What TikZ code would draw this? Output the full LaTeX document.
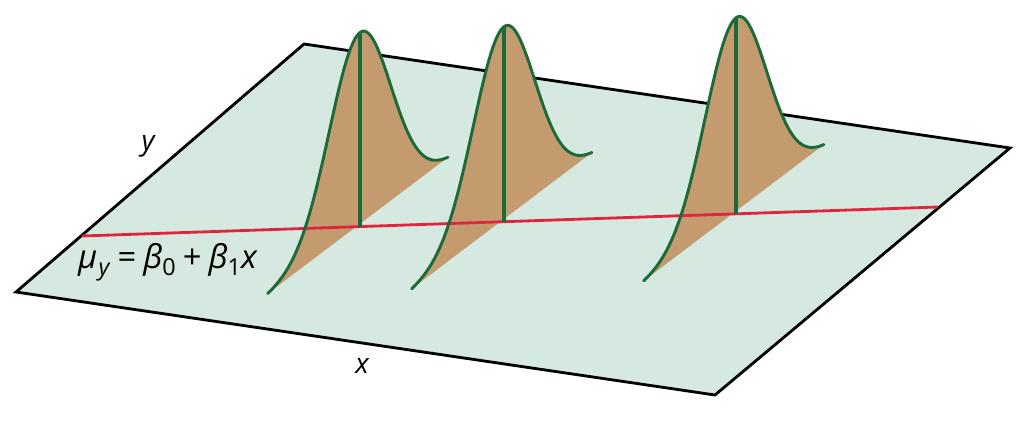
\documentclass[tikz,border=0pt]{standalone}
\usepackage{fontspec}
\setmainfont{Open Sans}
\definecolor{planefill}{HTML}{D6E9E0}
\definecolor{bellfill}{HTML}{C49B6E}
\definecolor{bellline}{HTML}{1C6A3A}
\definecolor{regline}{HTML}{E0253E}
\newcommand{\subtxt}[1]{\raisebox{-0.45ex}{\fontsize{20}{21}\selectfont\upshape #1}}
\begin{document}
\begin{tikzpicture}[x=0.03cm,y=-0.03cm,
  planestyle/.style={fill=planefill,draw=black,line width=2.4pt,line join=miter},
  bellarea/.style={fill=bellfill,draw=none},
  bellcurve/.style={draw=bellline,line width=2.5pt,line cap=round,line join=round},
  regstyle/.style={draw=regline,line width=2.4pt},
  lab/.style={font=\fontsize{24}{28}\selectfont\itshape,inner sep=0pt},
  eqlab/.style={font=\fontsize{28}{31}\selectfont\itshape,inner sep=0pt}]
\useasboundingbox (0,0) rectangle (1023,421);
% plane
\coordinate (TL) at (304,44);
\coordinate (TR) at (1010,148);
\coordinate (BR) at (715,395);
\coordinate (BL) at (16,292);
\draw[planestyle] (TL) -- (TR) -- (BR) -- (BL) -- cycle;
% regression line end points and bases
\coordinate (RL) at (82,236);
\coordinate (RR) at (938,207);
\foreach \bx/\by/\h/\n in {360/226.5/194/1, 504/221.7/195/2, 736/213.8/196/3}{
  \coordinate (base\n) at (\bx,\by);
  \coordinate (peak\n) at (\bx,\by-\h);
  \fill[bellarea] plot[domain=-1.05:1,samples=90,variable=\t]
     ({\bx+88*\t},{\by-66*\t-\h*exp(-\t*\t/0.245)}) -- cycle;
}
\draw[regstyle] (RL) -- (RR);
\foreach \bx/\by/\h/\n in {360/226.5/194/1, 504/221.7/195/2, 736/213.8/196/3}{
  \draw[bellcurve] plot[domain=-1.05:1,samples=90,variable=\t]
     ({\bx+88*\t},{\by-66*\t-\h*exp(-\t*\t/0.245)});
  \draw[bellcurve,line cap=butt,line width=2.8pt] (base\n) -- (peak\n);
}
% labels
\node[lab,anchor=base] (ylab) at (148,150) {y};
\node[lab,anchor=base] (xlab) at (362,373) {x};
\node[eqlab,anchor=base west] (eq) at (78,268)
  {μ\kern1pt\subtxt{\itshape y}\kern7pt{\upshape =}\kern6pt β\subtxt{0}\kern6pt{\upshape +}\kern6pt β\subtxt{1}x};
\end{tikzpicture}
\end{document}
